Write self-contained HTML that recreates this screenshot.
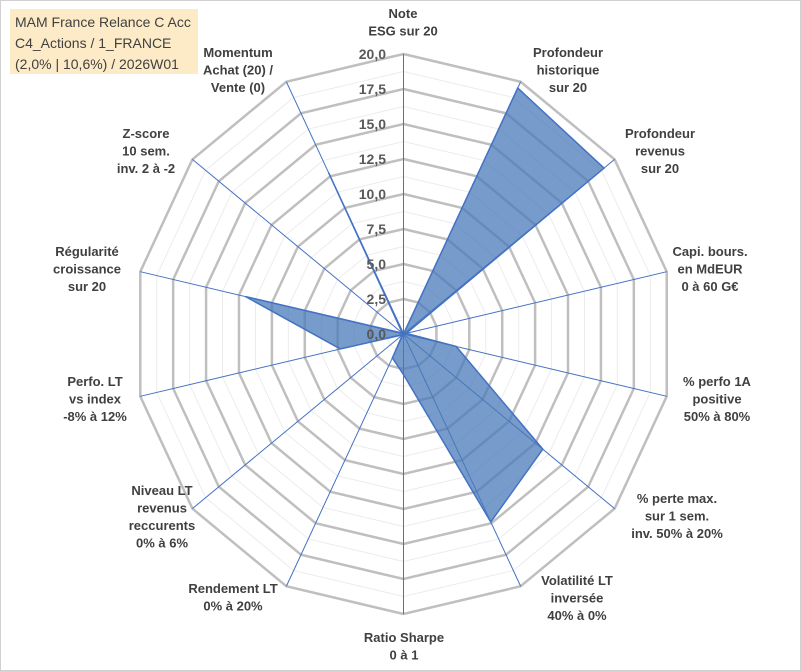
<!DOCTYPE html>
<html><head><meta charset="utf-8"><style>
body{margin:0;background:#fff}
svg{display:block;font-family:"Liberation Sans",sans-serif}
</style></head><body>
<svg id="c" width="801" height="671" viewBox="0 0 801 671">
<rect x="0.5" y="0.5" width="800" height="670" fill="#fff" stroke="#d0d0d0"/>
<g id="grid"></g><g id="spokes"></g><g id="series"></g><g id="ticks"></g><g id="labels"></g>
<g>
<rect x="10" y="9" width="188" height="65" fill="#fdebc8"/>
<text x="15" y="27" font-size="14" fill="#404040">MAM France Relance C Acc</text>
<text x="15" y="48" font-size="14" fill="#404040">C4_Actions / 1_FRANCE</text>
<text x="15" y="69" font-size="14" fill="#404040">(2,0% | 10,6%) / 2026W01</text>
</g>
</svg>
<script>
const categories=[["Note","ESG sur 20"],["Profondeur","historique","sur 20"],["Profondeur","revenus","sur 20"],["Capi. bours.","en MdEUR","0 à 60 G€"],["% perfo 1A","positive","50% à 80%"],["% perte max.","sur 1 sem.","inv. 50% à 20%"],["Volatilité LT","inversée","40% à 0%"],["Ratio Sharpe","0 à 1"],["Rendement LT","0% à 20%"],["Niveau LT","revenus","reccurents","0% à 6%"],["Perfo. LT","vs index","-8% à 12%"],["Régularité","croissance","sur 20"],["Z-score","10 sem.","inv. 2 à -2"],["Momentum","Achat (20) /","Vente (0)"]];
const values=[0,19.5,19,0.2,4,13.2,14.9,2.9,1.9,0.1,4.8,12,0.1,12.8];
const tickLabels=["0,0","2,5","5,0","7,5","10,0","12,5","15,0","17,5","20,0"];
const labelPos=[[403,13],[568,52],[660,133],[710,251],[717,381],[677,498],[577,580],[404,637],[233,588],[162,490],[95,381],[87,251],[146,133],[238,52]];
const cx=403.5,cy=334,Rx=270,Ry=280,maxV=20,N=categories.length;
const NS="http://www.w3.org/2000/svg";
function ang(i){return i*2*Math.PI/N;}
function pt(i,v){const f=v/maxV;return [cx+f*Rx*Math.sin(ang(i)),cy-f*Ry*Math.cos(ang(i))];}
function mk(t,a,p){const e=document.createElementNS(NS,t);for(const k in a)e.setAttribute(k,a[k]);p.appendChild(e);return e;}
const grid=document.getElementById('grid');
for(let k=1;k<=16;k++){const v=k*1.25;const pts=[];for(let i=0;i<N;i++)pts.push(pt(i,v).join(','));
const major=k%2==0;
const e=mk('polygon',{points:pts.join(' '),fill:'none',stroke:major?'#bfbfbf':'#ececec','stroke-width':major?2.5:1},grid);

}
const sp=document.getElementById('spokes');
for(let i=0;i<N;i++){const p=pt(i,maxV);const e=mk('line',{x1:cx,y1:cy,x2:p[0],y2:p[1],stroke:'#4472c4','stroke-width':1},sp);

}
const s=document.getElementById('series');
const pp=values.map((v,i)=>pt(i,v).join(',')).join(' ');
const poly=mk('polygon',{points:pp,fill:'#4a7ab8','fill-opacity':0.75,stroke:'#4472c4','stroke-width':1.5},s);


const tk=document.getElementById('ticks');
tickLabels.forEach((t,k)=>{const y=cy-k*2.5/maxV*Ry;const e=mk('text',{x:386,y:y+5,'text-anchor':'end','font-size':14,'font-weight':'bold',fill:'#595959'},tk);e.textContent=t;

});
const lb=document.getElementById('labels');
categories.forEach((c,i)=>{const g=mk('text',{'text-anchor':'middle','font-size':13,'font-weight':'bold',fill:'#404040'},lb);


c.forEach((line,j)=>{const t=mk('tspan',{x:labelPos[i][0],y:labelPos[i][1]+5+j*17.5},g);t.textContent=line;});});
</script>
</body></html>
